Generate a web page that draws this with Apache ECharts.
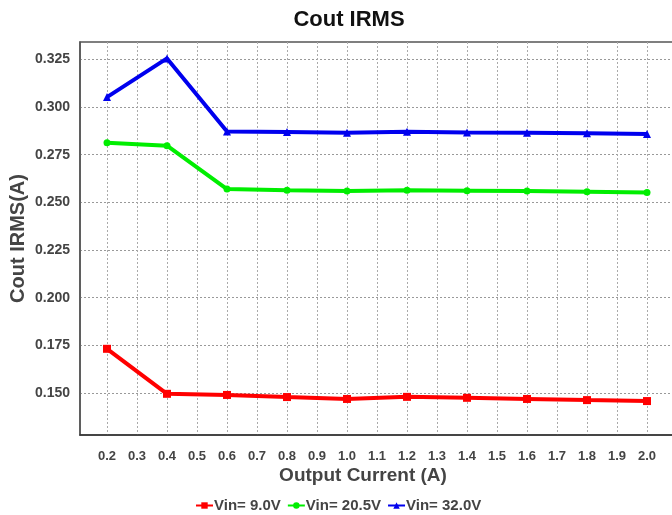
<!DOCTYPE html>
<html>
<head>
<meta charset="utf-8">
<script src="https://cdn.jsdelivr.net/npm/echarts@6/dist/echarts.min.js"></script>
<style>
  html, body { margin: 0; padding: 0; background: #fff; }
  #chart { width: 672px; height: 515px; }
</style>
</head>
<body>
<div id="chart"></div>
<script>
const current = [0.2, 0.4, 0.6, 0.8, 1.0, 1.2, 1.4, 1.6, 1.8, 2.0];
const vin9 = [0.1732, 0.1496, 0.1490, 0.1479, 0.1469, 0.1480, 0.1475, 0.1469, 0.1463, 0.1458];
const vin205 = [0.2813, 0.2797, 0.2570, 0.2564, 0.2559, 0.2563, 0.2561, 0.2559, 0.2556, 0.2552];
const vin32 = [0.3052, 0.3255, 0.2872, 0.2869, 0.2865, 0.2870, 0.2867, 0.2865, 0.2862, 0.2858];
const xTicks = [0.2, 0.3, 0.4, 0.5, 0.6, 0.7, 0.8, 0.9, 1.0, 1.1, 1.2, 1.3, 1.4, 1.5, 1.6, 1.7, 1.8, 1.9, 2.0];
const yTicks = [0.150, 0.175, 0.200, 0.225, 0.250, 0.275, 0.300, 0.325];

const chart = echarts.init(document.getElementById('chart'));

const font = 'Liberation Sans, Arial, sans-serif';
const textColor = '#444';

const makeSeries = (name, values, color, symbol, size) => ({
  name: name,
  type: 'line',
  data: current.map((x, i) => [x, values[i]]),
  symbol: symbol,
  symbolSize: size,
  lineStyle: { color: color, width: 4 },
  itemStyle: { color: color },
  animation: false
});

chart.setOption({
  title: {
    text: 'Cout IRMS',
    left: 344,
    textAlign: 'center',
    top: 4,
    textStyle: { fontFamily: font, fontSize: 22, fontWeight: 'bold', color: '#111' }
  },
  legend: {
    top: 493,
    left: 190,
    itemGap: 6,
    itemWidth: 17,
    itemHeight: 8,
    textStyle: { fontFamily: font, fontSize: 15, fontWeight: 'bold', color: textColor, padding: [0, 0, 0, -4] },
    data: ['Vin= 9.0V', 'Vin= 20.5V', 'Vin= 32.0V']
  },
  grid: {
    left: 80, right: -2, top: 42, bottom: 80,
    outerBoundsMode: 'none',
    show: true,
    borderColor: '#555',
    borderWidth: 1.5
  },
  xAxis: {
    type: 'value',
    min: 0.11,
    max: 2.09,
    name: 'Output Current (A)',
    nameLocation: 'middle',
    nameGap: 31,
    nameMoveOverlap: false,
    nameTextStyle: { fontFamily: font, fontSize: 19, fontWeight: 'bold', color: textColor, padding: [0, 28, 0, 0] },
    axisLine: { lineStyle: { color: '#333', width: 1.5 } },
    axisTick: { show: false, customValues: xTicks },
    axisLabel: {
      customValues: xTicks,
      formatter: (v) => v.toFixed(1),
      fontFamily: font, fontSize: 13, fontWeight: 'bold', color: textColor, margin: 15
    },
    splitLine: { show: true, lineStyle: { color: '#aaa', type: [2, 2], width: 1 } }
  },
  yAxis: {
    type: 'value',
    min: 0.1280,
    max: 0.3341,
    name: 'Cout IRMS(A)',
    nameLocation: 'middle',
    nameGap: 52,
    nameMoveOverlap: false,
    nameTextStyle: { fontFamily: font, fontSize: 20, fontWeight: 'bold', color: textColor },
    axisLine: { show: true, lineStyle: { color: '#555', width: 1.5 } },
    axisTick: { show: false, customValues: yTicks },
    axisLabel: {
      customValues: yTicks,
      formatter: (v) => v.toFixed(3),
      fontFamily: font, fontSize: 14, fontWeight: 'bold', color: textColor, margin: 10
    },
    splitLine: { show: true, lineStyle: { color: '#999', type: [2, 2], width: 1 } }
  },
  series: [
    makeSeries('Vin= 9.0V', vin9, '#ff0000', 'rect', 8),
    makeSeries('Vin= 20.5V', vin205, '#00ee00', 'circle', 7),
    makeSeries('Vin= 32.0V', vin32, '#0000ee', 'triangle', 8)
  ]
});
</script>
</body>
</html>
